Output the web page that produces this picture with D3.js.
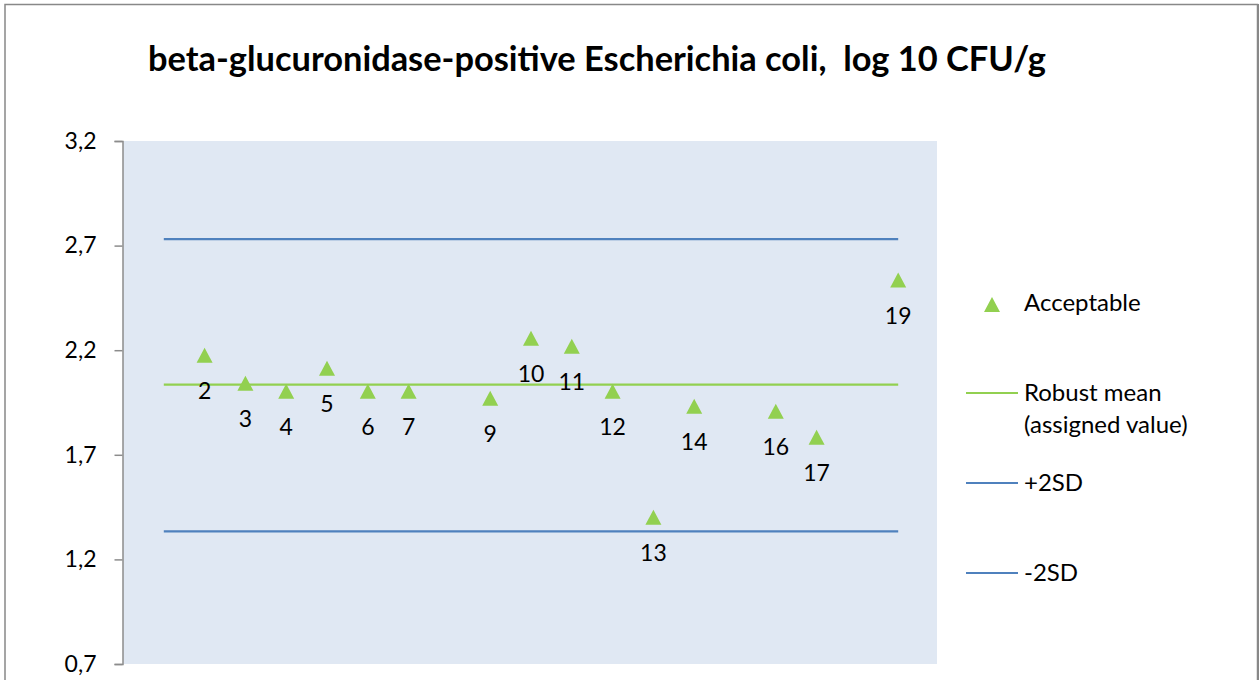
<!DOCTYPE html>
<html><head><meta charset="utf-8">
<script src="https://cdn.jsdelivr.net/npm/d3@7"></script>
<style>body{margin:0;background:#fff;}svg{display:block;font-family:Lato,"Open Sans",sans-serif;}</style>
</head><body>
<svg id="c" width="1260" height="680"></svg>
<script>
const labs = [2,3,4,5,6,7,9,10,11,12,13,14,16,17,19];
const values = [2.176,2.042,2.004,2.114,2.004,2.004,1.97,2.257,2.219,2.004,1.401,1.932,1.908,1.784,2.535];
const robustMean = 2.035;
const plus2SD = 2.731;
const minus2SD = 1.334;
const lineRange = [1,19];
const yTicks = [0.7,1.2,1.7,2.2,2.7,3.2];
const title = "beta-glucuronidase-positive Escherichia coli,  log 10 CFU/g";
const legendItems = ["Acceptable","Robust mean","(assigned value)","+2SD","-2SD"];

const svg = d3.select("#c");
const green = "#92D050", blue = "#4F81BD";
// outer frame
svg.append("rect").attr("x",5).attr("y",4.5).attr("width",1252.5).attr("height",690).attr("fill","#fff").attr("stroke","#888").attr("stroke-width",1.5);
svg.append("line").attr("x1",1258).attr("x2",1258).attr("y1",4).attr("y2",680).attr("stroke","#888").attr("stroke-width",2);

const x = d3.scaleLinear().domain([0,20]).range([123,939]);
const y = d3.scaleLinear().domain([0.7,3.2]).range([664,141]);

svg.append("rect").attr("x",x(0)).attr("y",y(3.2)).attr("width",937-123).attr("height",y(0.7)-y(3.2)).attr("fill","#E0E8F3");

const ax = svg.append("g").attr("transform","translate(122.5,0)")
  .call(d3.axisLeft(y).tickValues(yTicks).tickSize(8).tickFormat(d=>d3.format(".1f")(d).replace(".",",")));
ax.select(".domain").attr("stroke","#8c8c8c").attr("stroke-width",1.5);
ax.selectAll(".tick line").attr("stroke","#8c8c8c").attr("stroke-width",1.5);
ax.selectAll(".tick text").attr("font-size",23).attr("fill","#000").attr("x",-26).attr("font-family","Lato,'Open Sans',sans-serif");

svg.append("text").attr("x",597).attr("y",71).attr("text-anchor","middle").attr("font-size",34.4).attr("font-weight","bold")
  .style("white-space","pre").text(title);

const hl = (v,c)=>svg.append("line").attr("x1",x(lineRange[0])).attr("x2",x(lineRange[1])).attr("y1",y(v)).attr("y2",y(v)).attr("stroke",c).attr("stroke-width",2.2);
hl(plus2SD,blue); hl(minus2SD,blue); hl(robustMean,green);

const tri = "M0,-7.5L8,7.5L-8,7.5Z";
const pts = labs.map((l,i)=>({l,v:values[i]}));
svg.selectAll("path.pt").data(pts).join("path").attr("class","pt")
  .attr("d",tri).attr("transform",d=>`translate(${x(d.l)},${y(d.v)})`).attr("fill",green);
svg.selectAll("text.lbl").data(pts).join("text").attr("class","lbl")
  .attr("x",d=>x(d.l)).attr("y",d=>y(d.v)+44).attr("text-anchor","middle").attr("font-size",23).text(d=>d.l);

// legend
svg.append("path").attr("d",tri).attr("transform","translate(992,304.5)").attr("fill",green);
const lt = (t,yy)=>svg.append("text").attr("x",1024).attr("y",yy).attr("font-size",24).text(t);
lt(legendItems[0],311); lt(legendItems[1],401); lt(legendItems[2],433); lt(legendItems[3],491); lt(legendItems[4],581);
const ll = (yy,c)=>svg.append("line").attr("x1",966).attr("x2",1018).attr("y1",yy).attr("y2",yy).attr("stroke",c).attr("stroke-width",2.2);
ll(393,green); ll(483,blue); ll(573,blue);
</script></body></html>
